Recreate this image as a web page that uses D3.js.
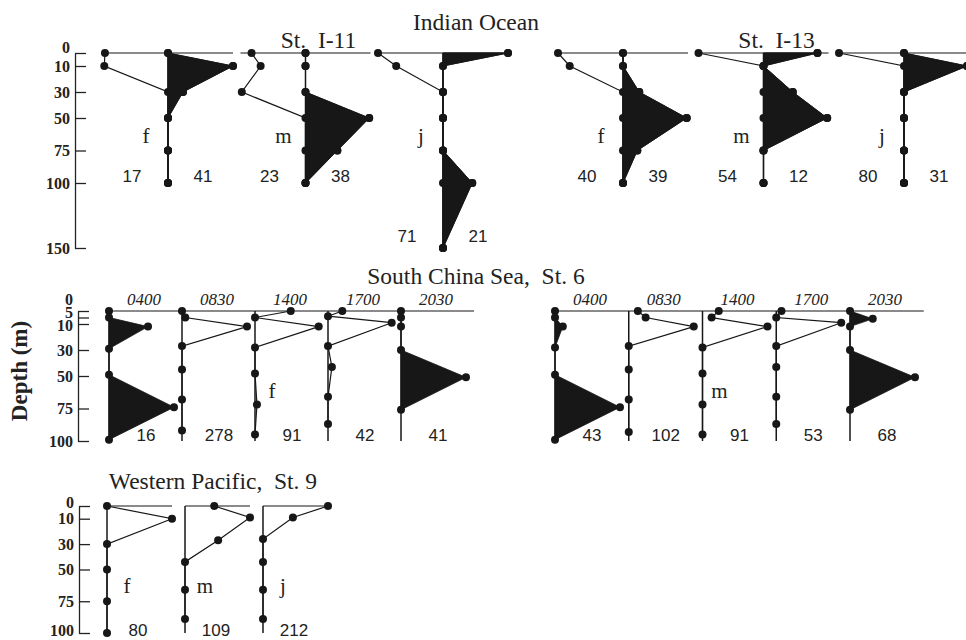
<!DOCTYPE html>
<html>
<head>
<meta charset="utf-8">
<script src="https://cdn.jsdelivr.net/npm/d3@7"></script>
<style>
  body { margin: 0; background: #fff; }
  svg { display: block; }
  .title { font-family: "Liberation Serif", serif; font-size: 23.5px; fill: #222; white-space: pre; }
  .axis text { font-family: "Liberation Serif", serif; font-weight: bold; font-size: 16px; fill: #222; }
  .axis path, .axis line { stroke: #222; stroke-width: 1.3; }
  .stage { font-family: "Liberation Serif", serif; font-size: 21px; fill: #222; }
  .total { font-family: "Liberation Sans", Arial, sans-serif; font-size: 17px; fill: #222; }
  .time { font-family: "Liberation Serif", serif; font-style: italic; font-size: 17px; fill: #222; }
</style>
</head>
<body>
<svg id="chart"></svg>
<script>
// values are relative abundance, % of the profile maximum

// Indian Ocean: day profile drawn to the left (open), night to the right (filled)
const ioStages = ["f", "m", "j"]
const i11Depths = [[0, 10, 30, 50, 75, 100], [0, 10, 30, 50, 75, 100], [0, 10, 30, 50, 75, 100, 150]]
const i11Day = [[97, 98, 0, 0, 0, 0], [83, 69, 98, 0, 0, 0], [100, 72, 0, 0, 0, 0, 0]]
const i11Night = [[0, 100, 23, 0, 0, 0], [0, 0, 0, 98, 49, 0], [100, 0, 0, 0, 0, 45, 0]]
const i11Totals = [[17, 41], [23, 38], [71, 21]]

const i13Depths = [[0, 10, 30, 50, 75, 100], [0, 10, 30, 50, 75, 100], [0, 10, 30, 50, 75, 100]]
const i13Day = [[100, 82, 0, 0, 0, 0], [100, 0, 0, 0, 0, 0], [100, 0, 0, 0, 0, 0]]
const i13Night = [[0, 0, 25, 98, 22, 0], [83, 0, 45, 98, 0, 0], [0, 97, 0, 0, 0, 0]]
const i13Totals = [[40, 39], [54, 12], [80, 31]]

const ioTicks = [0, 10, 30, 50, 75, 100, 150]

// South China Sea, St. 6: one profile per sampling time (night ones filled)
const scsTimes = ["0400", "0830", "1400", "1700", "2030"]
const scsFilled = [true, false, false, false, true]
const scsDepthsF = [[0, 5, 12, 29, 49, 74, 99], [0, 5, 12, 27, 45, 68, 92], [0, 5, 12, 28, 48, 72, 95], [0, 4, 9, 27, 43, 66, 87], [0, 5, 12, 30, 51, 76]]
const scsF = [[0, 0, 60, 0, 0, 100, 0], [0, 5, 100, 0, 0, 0, 0], [55, 0, 98, 0, 0, 3, 0], [22, 0, 98, 0, 6, 0, 0], [0, 0, 0, 0, 100, 0]]
const scsFTotals = [16, 278, 91, 42, 41]
const scsDepthsM = [[0, 5, 12, 28, 49, 74, 99], [0, 5, 12, 27, 45, 68, 93], [0, 5, 12, 28, 48, 72, 95], [0, 5, 9, 27, 43, 66, 87], [0, 6, 12, 30, 51, 76]]
const scsM = [[0, 0, 12, 0, 0, 100, 0], [14, 26, 100, 0, 0, 0, 0], [25, 14, 100, 0, 0, 0, 0], [8, 0, 100, 0, 0, 0, 0], [0, 35, 0, 0, 100, 0]]
const scsMTotals = [43, 102, 91, 53, 68]
const scsTicks = [0, 5, 10, 30, 50, 75, 100]

// Western Pacific, St. 9
const wpStages = ["f", "m", "j"]
const wpDepths = [[0, 10, 30, 50, 75, 100], [0, 9, 27, 44, 66, 89], [0, 9, 26, 44, 66, 89]]
const wpValues = [[0, 100, 0, 0, 0, 0], [45, 100, 51, 0, 0, 0], [100, 46, 0, 0, 0, 0]]
const wpTotals = [80, 109, 212]
const wpTicks = [0, 10, 30, 50, 75, 100]

const width = 966
const height = 640
const ink = "#171717"

const svg = d3.select("#chart").attr("width", width).attr("height", height)

// shared width scale for a profile
const xv = d3.scaleLinear().domain([0, 100]).range([0, 65])

const yIO = d3.scaleLinear().domain([0, 150]).range([53, 248])
const ySCS = d3.scaleLinear().domain([0, 100]).range([311, 441])
const yWP = d3.scaleLinear().domain([0, 100]).range([506, 633])

/**
 * One profile hanging off a vertical baseline
 * @param {number} side -1 to the left, +1 to the right
 */
function profile(g, x0, y, depths, values, side, filled) {
  const px = (d, i) => x0 + side * xv(values[i])
  if (filled) {
    g.append("path")
      .attr("d", d3.area().x0(x0).x1(px).y((d) => y(d))(depths))
      .attr("fill", ink)
      .attr("stroke", ink)
      .attr("stroke-width", 0.8)
  } else {
    g.append("path")
      .attr("d", d3.line().x(px).y((d) => y(d))(depths))
      .attr("fill", "none")
      .attr("stroke", ink)
      .attr("stroke-width", 1.2)
  }
  g.selectAll(null)
    .data(depths)
    .join("circle")
    .attr("cx", px)
    .attr("cy", (d) => y(d))
    .attr("r", 4)
    .attr("fill", ink)
}

function baseline(g, x0, y, bottom) {
  g.append("line")
    .attr("x1", x0).attr("x2", x0)
    .attr("y1", y(0)).attr("y2", y(bottom))
    .attr("stroke", ink).attr("stroke-width", 1.5)
}

function topLine(g, x1, x2, y) {
  g.append("line")
    .attr("x1", x1).attr("x2", x2)
    .attr("y1", y(0)).attr("y2", y(0))
    .attr("stroke", ink).attr("stroke-width", 1.2)
}

function depthAxis(x, y, ticks, dy) {
  svg.append("g")
    .attr("class", "axis")
    .attr("transform", `translate(${x},0)`)
    .call(d3.axisLeft(y).tickValues(ticks).tickSizeInner(-11).tickSizeOuter(0).tickPadding(5))
    .call((g) => g.selectAll("text").attr("dy", (d) => (dy[d] !== undefined ? dy[d] : "0.32em")))
}

// ---------- Indian Ocean ----------
depthAxis(75, yIO, ioTicks, { 0: "-0.05em" })

svg.append("text").attr("class", "title").attr("x", 476).attr("y", 30)
  .attr("text-anchor", "middle").text("Indian Ocean")

function ioStation(name, range, depths, day, night, totals) {
  const xs = d3.scalePoint().domain(ioStages).range(range)
  const g = svg.append("g")
  svg.append("text").attr("class", "title").attr("x", xs("m") + 13).attr("y", 48)
    .attr("text-anchor", "middle").text(name)
  ioStages.forEach((s, i) => {
    const x0 = xs(s)
    const last = depths[i][depths[i].length - 1]
    profile(g, x0, yIO, depths[i], night[i], 1, true)
    topLine(g, x0 - xv(100), x0 + xv(100), yIO)
    baseline(g, x0, yIO, last)
    profile(g, x0, yIO, depths[i], day[i], -1, false)
    profile(g, x0, yIO, depths[i], night[i], 1, true)
    g.append("text").attr("class", "stage").attr("x", x0 - 22).attr("y", 143)
      .attr("text-anchor", "middle").text(s)
    const ny = last > 100 ? yIO(145) : yIO(99)
    g.append("text").attr("class", "total").attr("x", x0 - 36).attr("y", ny)
      .attr("text-anchor", "middle").text(totals[i][0])
    g.append("text").attr("class", "total").attr("x", x0 + 35).attr("y", ny)
      .attr("text-anchor", "middle").text(totals[i][1])
  })
}

ioStation("St.  I-11", [168, 443], i11Depths, i11Day, i11Night, i11Totals)
ioStation("St.  I-13", [623, 904], i13Depths, i13Day, i13Night, i13Totals)

// ---------- South China Sea ----------
depthAxis(78, ySCS, scsTicks, { 0: "-0.42em", 5: "0em", 10: "0.42em" })

svg.append("text").attr("class", "title").attr("x", 476).attr("y", 284)
  .attr("text-anchor", "middle").text("South China Sea,  St. 6")

function scsGroup(stage, range, depths, values, totals) {
  const xs = d3.scalePoint().domain(scsTimes).range(range)
  const step = xs.step()
  const g = svg.append("g")
  topLine(g, range[0], range[1] + step, ySCS)
  scsTimes.forEach((t, i) => {
    const x0 = xs(t)
    baseline(g, x0, ySCS, 100)
    profile(g, x0, ySCS, depths[i], values[i], 1, scsFilled[i])
    g.append("text").attr("class", "time").attr("x", x0 + 35).attr("y", 305)
      .attr("text-anchor", "middle").text(t)
    g.append("text").attr("class", "total").attr("x", x0 + 37).attr("y", ySCS(100))
      .attr("text-anchor", "middle").text(totals[i])
  })
  g.append("text").attr("class", "stage").attr("x", xs("1400") + 17).attr("y", 398)
    .attr("text-anchor", "middle").text(stage)
}

scsGroup("f", [109, 401], scsDepthsF, scsF, scsFTotals)
scsGroup("m", [555, 850], scsDepthsM, scsM, scsMTotals)

// ---------- Western Pacific ----------
depthAxis(79, yWP, wpTicks, { 0: "0.1em", 100: "0.15em" })

svg.append("text").attr("class", "title").attr("x", 213).attr("y", 489)
  .attr("text-anchor", "middle").text("Western Pacific,  St. 9")

{
  const xs = d3.scalePoint().domain(wpStages).range([107, 263])
  const g = svg.append("g")
  wpStages.forEach((s, i) => {
    const x0 = xs(s)
    topLine(g, x0, x0 + xv(100), yWP)
    baseline(g, x0, yWP, 100)
    profile(g, x0, yWP, wpDepths[i], wpValues[i], 1, false)
    g.append("text").attr("class", "stage").attr("x", x0 + 20).attr("y", 593)
      .attr("text-anchor", "middle").text(s)
    g.append("text").attr("class", "total").attr("x", x0 + 31).attr("y", 636)
      .attr("text-anchor", "middle").text(wpTotals[i])
  })
}

// shared depth label
svg.append("text")
  .attr("transform", "translate(27,371) rotate(-90)")
  .attr("text-anchor", "middle")
  .style("font-family", '"Liberation Serif", serif')
  .style("font-weight", "bold")
  .style("font-size", "23px")
  .attr("fill", "#222")
  .text("Depth (m)")
</script>
</body>
</html>
